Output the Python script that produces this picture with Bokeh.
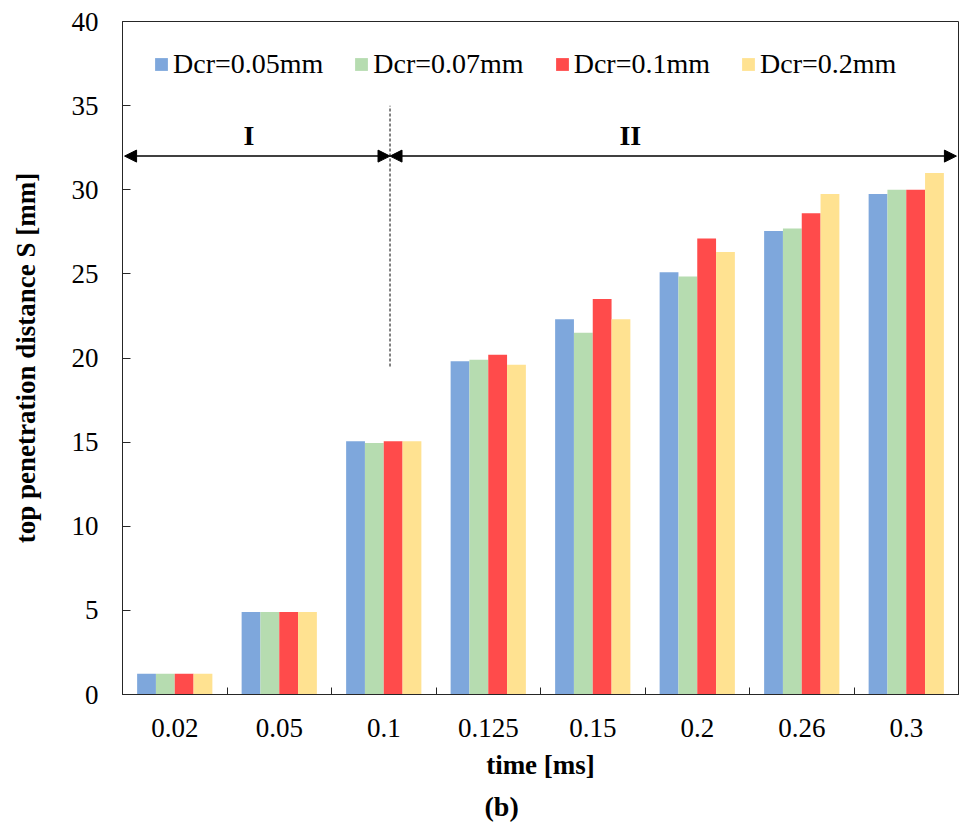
from bokeh.plotting import figure
from bokeh.models import (ColumnDataSource, FixedTicker, Range1d, Legend, LegendItem,
                          Arrow, NormalHead, Label, Title)
from bokeh.embed import file_html
from bokeh.resources import INLINE

# ---------------- data ----------------
times = ["0.02", "0.05", "0.1", "0.125", "0.15", "0.2", "0.26", "0.3"]
series_names = ["Dcr=0.05mm", "Dcr=0.07mm", "Dcr=0.1mm", "Dcr=0.2mm"]
dcr_005 = [1.23, 4.9, 15.05, 19.8, 22.3, 25.1, 27.55, 29.75]
dcr_007 = [1.23, 4.9, 14.95, 19.9, 21.5, 24.85, 27.7, 30.0]
dcr_010 = [1.23, 4.9, 15.05, 20.2, 23.5, 27.1, 28.6, 30.0]
dcr_020 = [1.23, 4.9, 15.05, 19.6, 22.3, 26.3, 29.75, 31.0]
y_ticks = [0, 5, 10, 15, 20, 25, 30, 35, 40]
colors = ["#7EA7DC", "#B6DCB0", "#FF4B4B", "#FFE291"]

# annotation positions (data units)
phase_boundary = 2.56
phase_line_bottom = 19.5
phase_line_top = 35.0
arrow_y = 32.0
phase_labels = ["I", "II"]
phase_label_x = [1.21, 4.86]
phase_label_y = 33.2

FONT = "Liberation Serif"

n = len(times)
centers = [i + 0.5 for i in range(n)]

p = figure(width=960, height=831, output_backend="svg", toolbar_location=None,
           x_range=Range1d(0, n), y_range=Range1d(0, 40),
           min_border_left=122, min_border_right=2, min_border_top=21,
           min_border_bottom=137)
p.grid.visible = False
p.background_fill_color = "white"
p.border_fill_color = "white"
p.outline_line_color = "#262626"
p.outline_line_width = 1

bar_w = 0.18
offsets = [-0.27, -0.09, 0.09, 0.27]
all_series = [dcr_005, dcr_007, dcr_010, dcr_020]
renderers = []
for vals, off, col in zip(all_series, offsets, colors):
    src = ColumnDataSource(dict(x=[c + off for c in centers], top=vals))
    r = p.vbar(x="x", top="top", bottom=0, width=bar_w, source=src,
               fill_color=col, line_color=None)
    renderers.append(r)

# x axis: labels at category centres, tick marks (minor) at boundaries
xa = p.xaxis[0]
xa.ticker = FixedTicker(ticks=centers, minor_ticks=list(range(n + 1)))
xa.major_label_overrides = {c: t for c, t in zip(centers, times)}
xa.major_tick_line_color = None
xa.minor_tick_in = 7
xa.minor_tick_out = 0
xa.minor_tick_line_color = "#262626"
xa.axis_line_color = "#262626"
xa.major_label_text_font = FONT
xa.major_label_text_font_size = "27px"
xa.major_label_text_color = "black"
xa.major_label_standoff = 18
xa.axis_label = "time [ms]"
xa.axis_label_text_font = FONT
xa.axis_label_text_font_size = "27px"
xa.axis_label_text_font_style = "bold"
xa.axis_label_text_color = "black"
xa.axis_label_standoff = 10

ya = p.yaxis[0]
ya.ticker = FixedTicker(ticks=y_ticks)
ya.major_tick_in = 8
ya.major_tick_out = 0
ya.minor_tick_line_color = None
ya.major_tick_line_color = "#262626"
ya.axis_line_color = "#262626"
ya.major_label_text_font = FONT
ya.major_label_text_font_size = "27px"
ya.major_label_text_color = "black"
ya.major_label_standoff = 24
ya.axis_label = "top penetration distance S [mm]"
ya.axis_label_text_font = FONT
ya.axis_label_text_font_size = "27px"
ya.axis_label_text_font_style = "bold"
ya.axis_label_text_color = "black"
ya.axis_label_standoff = 28

# caption below the x-axis label
cap = Title(text="(b)", align="left", offset=362, text_font=FONT,
            text_font_size="28px", text_font_style="bold", text_color="black",
            standoff=12)
p.add_layout(cap, "below")

# legend
legend = Legend(items=[LegendItem(label=nm, renderers=[r]) for nm, r in zip(series_names, renderers)],
                orientation="horizontal", location=(31, 614),
                border_line_color=None, background_fill_alpha=0,
                padding=0, margin=0, spacing=30,
                glyph_width=16, glyph_height=16, label_standoff=4,
                label_text_font=FONT, label_text_font_size="28px",
                label_text_color="black")
p.add_layout(legend)

# phase boundary dashed line
p.segment(x0=[phase_boundary], y0=[phase_line_bottom], x1=[phase_boundary], y1=[phase_line_top],
          line_color="#404040", line_width=1.3, line_dash="3 2")

# double arrows
for xs, xe in [(0.02, phase_boundary), (phase_boundary, n - 0.02)]:
    p.add_layout(Arrow(start=NormalHead(size=12, fill_color="black", line_color="black"),
                       end=NormalHead(size=12, fill_color="black", line_color="black"),
                       x_start=xs, y_start=arrow_y, x_end=xe, y_end=arrow_y,
                       line_color="black", line_width=1.5))

for txt, lx in zip(phase_labels, phase_label_x):
    p.add_layout(Label(x=lx, y=phase_label_y, text=txt, text_font=FONT,
                       text_font_size="28px", text_font_style="bold",
                       text_align="center", text_baseline="middle", text_color="black"))

open("out.html", "w").write(file_html(p, INLINE))
